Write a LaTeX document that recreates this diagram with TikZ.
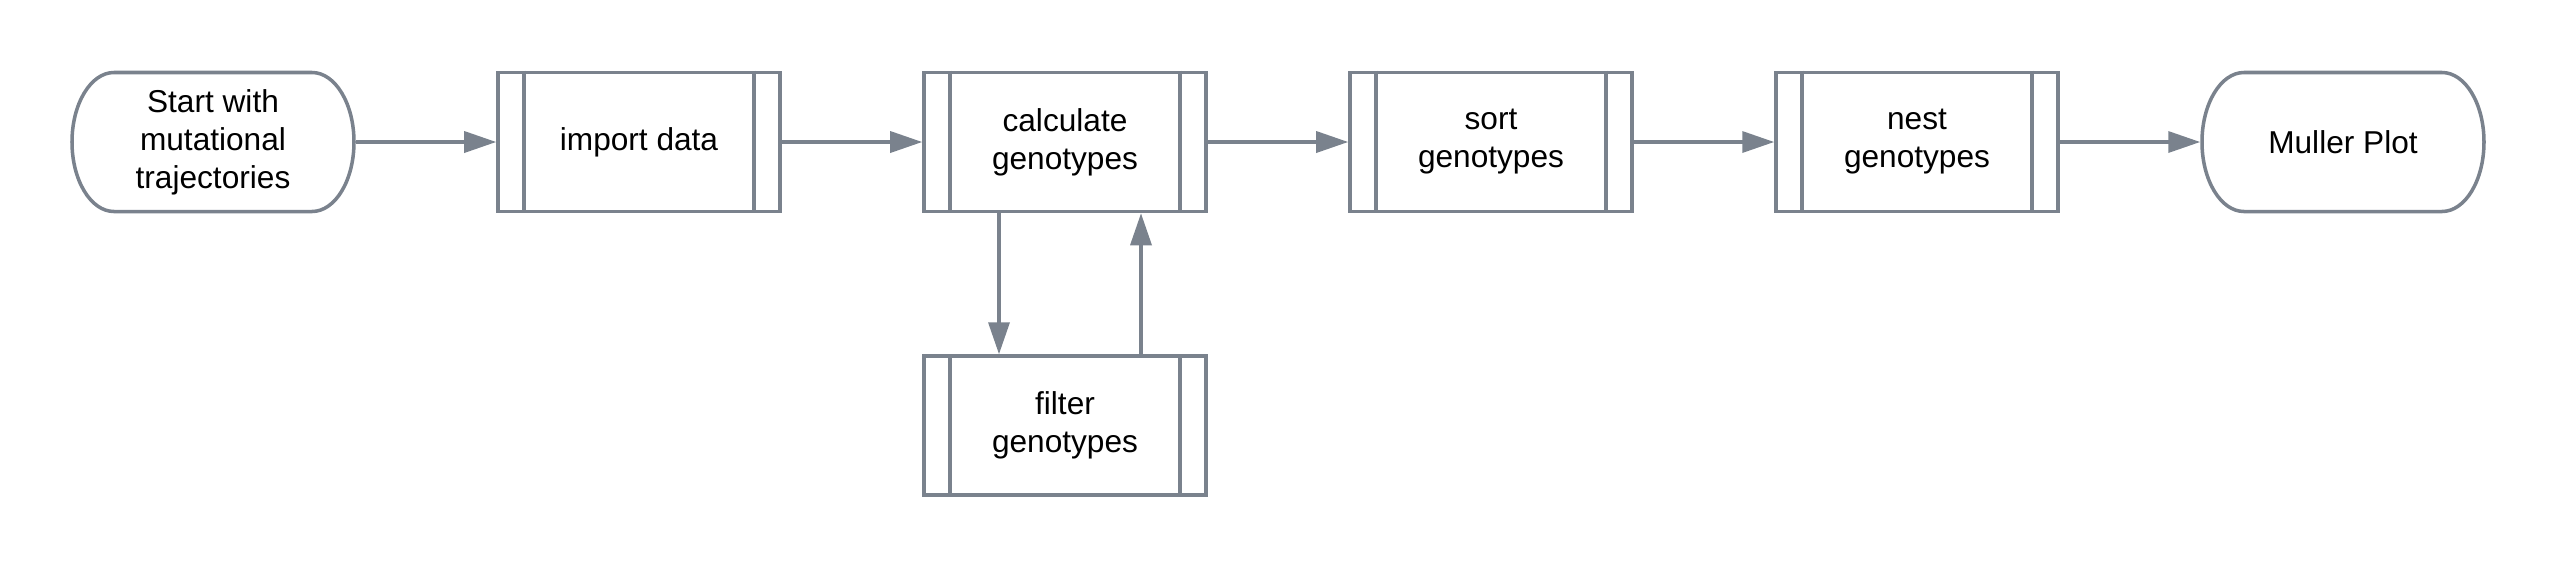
\documentclass[tikz,border=0pt]{standalone}
\usepackage{fontspec}
\setmainfont{Liberation Sans}
\usetikzlibrary{arrows.meta}
\definecolor{edge}{RGB}{122,130,141}
\begin{document}
\begin{tikzpicture}[
  ln/.style={draw=edge, line width=1pt},
  procbox/.style={ln, rectangle, minimum width=2.82cm, minimum height=1.39cm, align=center, inner sep=0pt,
    font=\fontsize{9}{10.8}\selectfont},
  termbox/.style={rectangle, draw=none, line width=1pt, minimum width=2.82cm, minimum height=1.39cm, align=center, inner sep=0pt,
    font=\fontsize{9}{10.8}\selectfont},
  arr/.style={ln, -{Triangle[length=0.32cm, width=0.21cm]}}
]
\useasboundingbox (0,0) rectangle (25.56,-5.68);
\node[termbox] (start) at (2.13,-1.42) {Start with\\mutational\\trajectories};
\node[procbox] (imp)  at (6.39,-1.42) {import data};
\node[procbox] (calc) at (10.65,-1.42) {calculate\\genotypes};
\node[procbox] (sort) at (14.91,-1.42) {sort\\genotypes};
\node[procbox] (nest) at (19.17,-1.42) {nest\\genotypes};
\node[termbox] (mull) at (23.43,-1.42) {Muller Plot};
\node[procbox] (filt) at (10.65,-4.255) {filter\\genotypes};

\foreach \n in {start,mull}{
  \draw[ln] ([shift={(-0.99,0.695)}]\n.center) -- ([shift={(0.99,0.695)}]\n.center)
    arc[start angle=90, end angle=-90, x radius=0.42, y radius=0.695]
    -- ([shift={(-0.99,-0.695)}]\n.center)
    arc[start angle=270, end angle=90, x radius=0.42, y radius=0.695] -- cycle;
}
\foreach \n in {imp,calc,sort,nest,filt}{
  \draw[ln] ([xshift=0.28cm]\n.north west) -- ([xshift=0.28cm]\n.south west);
  \draw[ln] ([xshift=-0.28cm]\n.north east) -- ([xshift=-0.28cm]\n.south east);
}

\draw[arr] (start.east) -- (imp.west);
\draw[arr] (imp.east) -- (calc.west);
\draw[arr] (calc.east) -- (sort.west);
\draw[arr] (sort.east) -- (nest.west);
\draw[arr] (nest.east) -- (mull.west);
\draw[arr] ([xshift=-0.66cm]calc.south) -- ([xshift=-0.66cm]filt.north);
\draw[arr] ([xshift=0.76cm]filt.north) -- ([xshift=0.76cm]calc.south);
\end{tikzpicture}
\end{document}
